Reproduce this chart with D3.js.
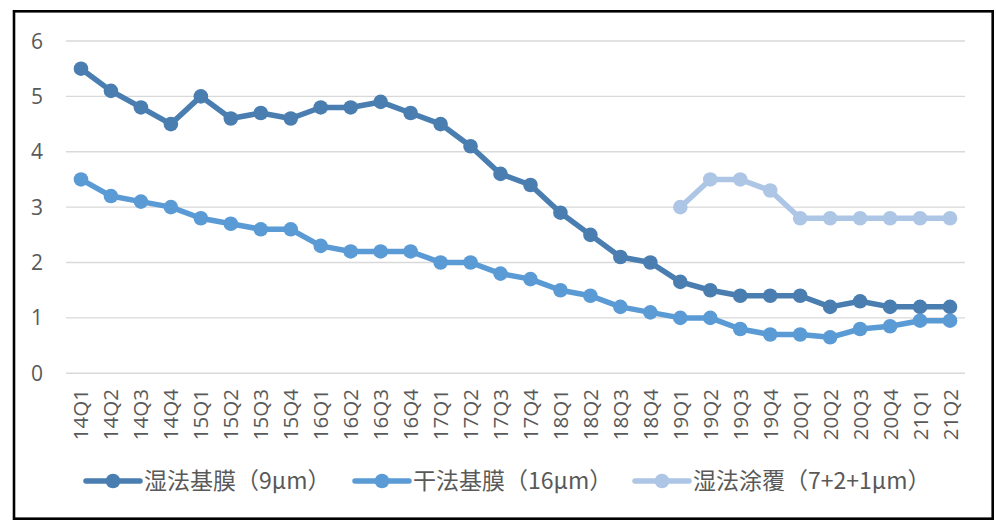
<!DOCTYPE html>
<html><head><meta charset="utf-8">
<script src="https://cdn.jsdelivr.net/npm/d3@7"></script>
<style>body{margin:0;background:#fff}svg{display:block}</style>
</head><body>
<svg id="c" width="996" height="521"></svg>
<script>
const categories = ["14Q1","14Q2","14Q3","14Q4","15Q1","15Q2","15Q3","15Q4","16Q1","16Q2","16Q3","16Q4","17Q1","17Q2","17Q3","17Q4","18Q1","18Q2","18Q3","18Q4","19Q1","19Q2","19Q3","19Q4","20Q1","20Q2","20Q3","20Q4","21Q1","21Q2"];
const wetBase = [5.5,5.1,4.8,4.5,5.0,4.6,4.7,4.6,4.8,4.8,4.9,4.7,4.5,4.1,3.6,3.4,2.9,2.5,2.1,2.0,1.65,1.5,1.4,1.4,1.4,1.2,1.3,1.2,1.2,1.2];
const dryBase = [3.5,3.2,3.1,3.0,2.8,2.7,2.6,2.6,2.3,2.2,2.2,2.2,2.0,2.0,1.8,1.7,1.5,1.4,1.2,1.1,1.0,1.0,0.8,0.7,0.7,0.65,0.8,0.85,0.95,0.95];
const wetCoat = [null,null,null,null,null,null,null,null,null,null,null,null,null,null,null,null,null,null,null,null,3.0,3.5,3.5,3.3,2.8,2.8,2.8,2.8,2.8,2.8];
const seriesNames = ["湿法基膜（9μm）","干法基膜（16μm）","湿法涂覆（7+2+1μm）"];
const yTicks = [0,1,2,3,4,5,6];

const colors = ["#4a7eb0","#5b9bd5","#adc6e6"];
const series = [wetBase, dryBase, wetCoat];

const svg = d3.select("#c");
const latin = "'Open Sans', 'Noto Sans', sans-serif";

svg.append("rect").attr("x",14).attr("y",11.3).attr("width",978.7).attr("height",507.4)
  .attr("fill","#fff").attr("stroke","#000").attr("stroke-width",2.6);

const x = d3.scaleBand().domain(categories).range([66,965]);
const y = d3.scaleLinear().domain([0,6]).range([373.3,41]);

// gridlines
svg.append("g").selectAll("line").data(yTicks).join("line")
  .attr("x1",66).attr("x2",965).attr("y1",d=>y(d)).attr("y2",d=>y(d))
  .attr("stroke","#d9d9d9").attr("stroke-width",1.4);

// y labels
svg.append("g").selectAll("text").data(yTicks).join("text")
  .attr("x",43).attr("y",d=>y(d)).attr("dy","0.36em").attr("text-anchor","end")
  .attr("font-family",latin).attr("font-size",21).attr("fill","#595959").text(d=>d);

// x labels
svg.append("g").selectAll("text").data(categories).join("text")
  .attr("transform",d=>`translate(${x(d)+x.bandwidth()/2+7.5},389) rotate(-90)`)
  .attr("text-anchor","end")
  .attr("font-family",latin).attr("font-size",20.5).attr("fill","#595959").text(d=>d);

const cx = (d,i)=>x(categories[i])+x.bandwidth()/2;
const line = d3.line().defined(d=>d!=null).x(cx).y(d=>y(d));

series.forEach((s,k)=>{
  const g = svg.append("g");
  g.append("path").datum(s).attr("d",line).attr("fill","none")
    .attr("stroke",colors[k]).attr("stroke-width",5.5).attr("stroke-linejoin","round");
  g.selectAll("circle").data(s.map((v,i)=>({v,i})).filter(d=>d.v!=null)).join("circle")
    .attr("cx",d=>cx(d.v,d.i)).attr("cy",d=>y(d.v)).attr("r",7.3).attr("fill",colors[k]);
});

// legend
const legX = [86,355,635];
const leg = svg.append("g");
seriesNames.forEach((n,k)=>{
  const g = leg.append("g").attr("transform",`translate(${legX[k]},481)`);
  g.append("line").attr("x1",0).attr("x2",54).attr("y1",0).attr("y2",0)
    .attr("stroke",colors[k]).attr("stroke-width",5.5).attr("stroke-linecap","round");
  g.append("circle").attr("cx",27).attr("cy",0).attr("r",7.3).attr("fill",colors[k]);
  g.append("text").attr("x",58).attr("y",0).attr("dy","0.36em")
    .attr("font-family","'Noto Sans CJK SC', sans-serif").attr("font-size",23).attr("fill","#595959").text(n);
});
</script>
</body></html>
